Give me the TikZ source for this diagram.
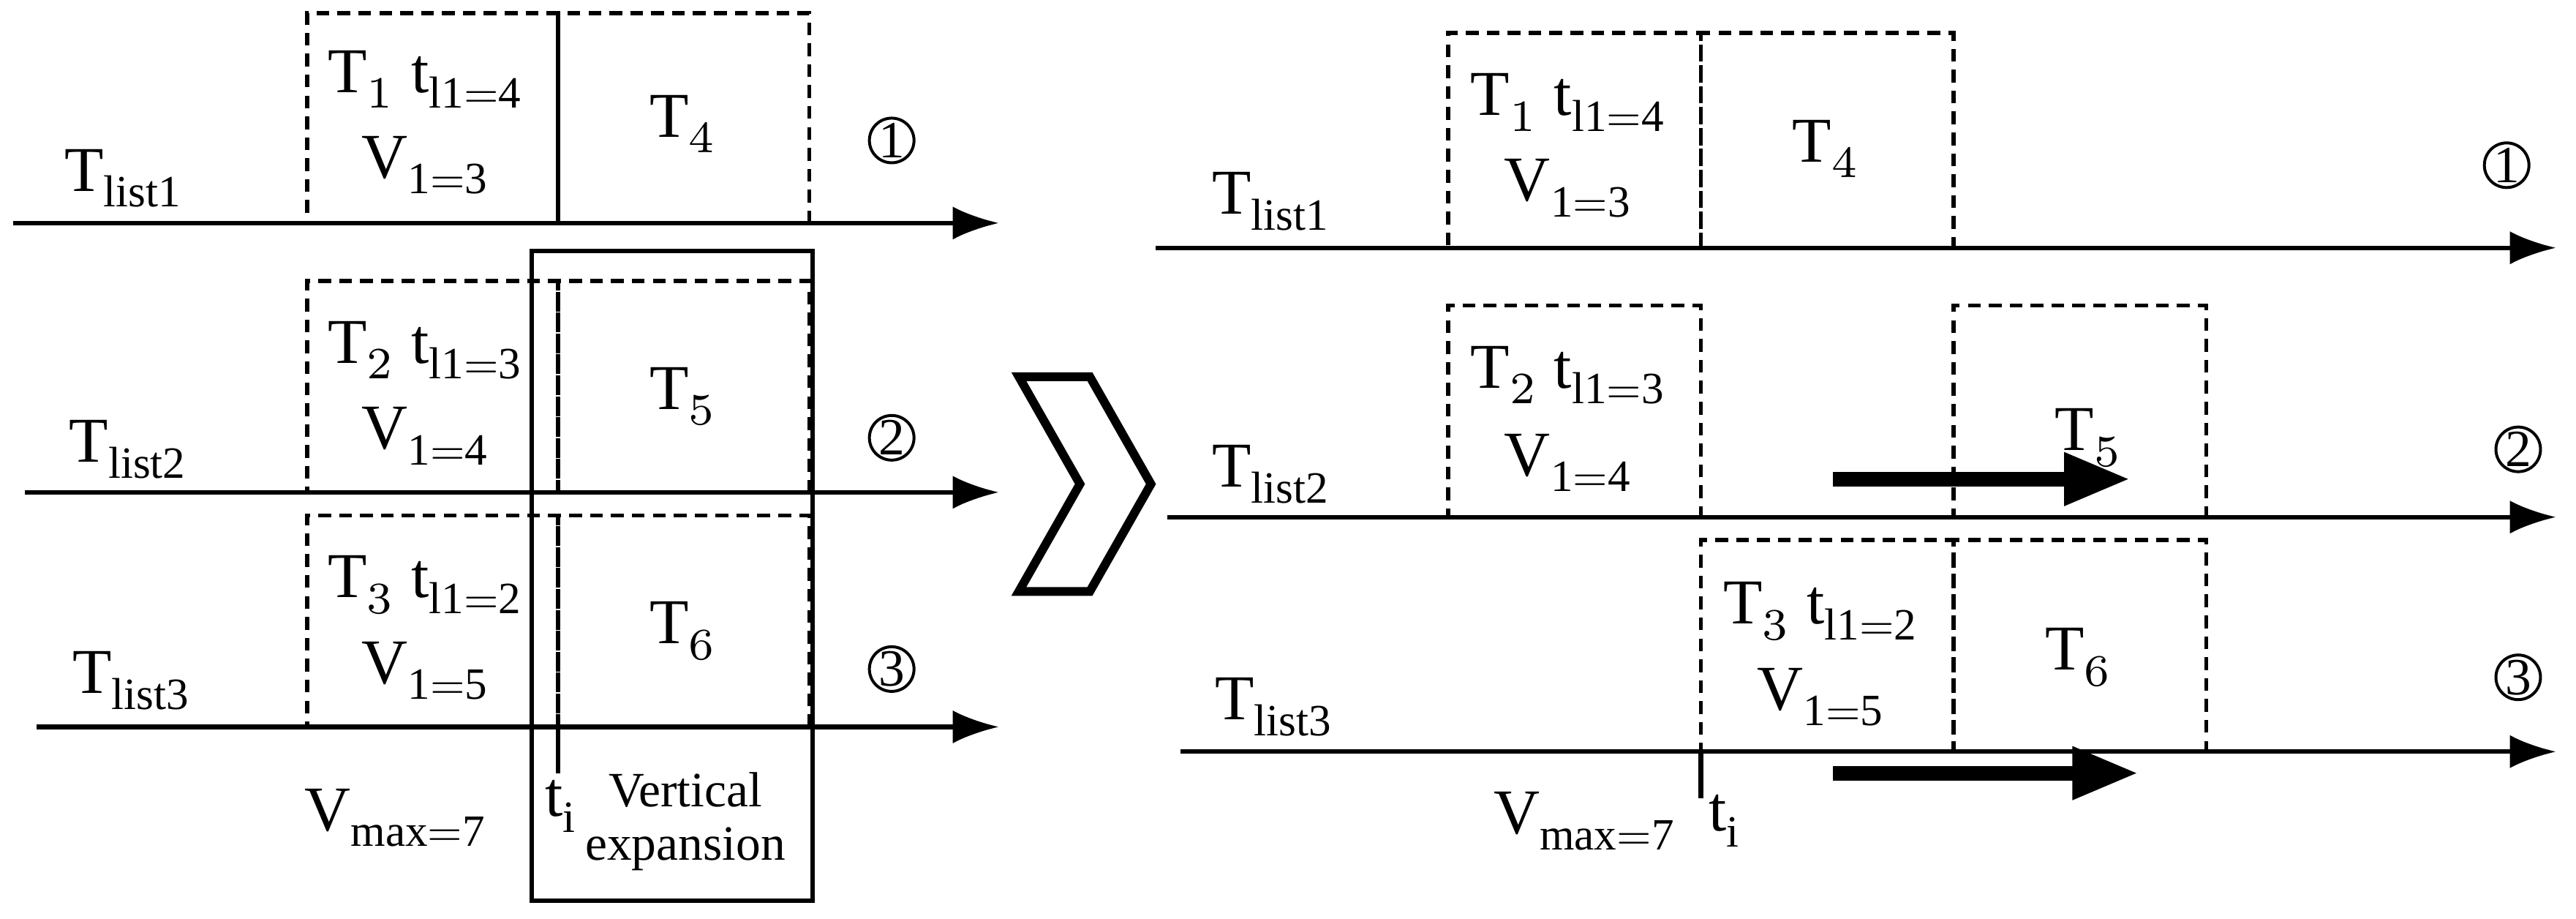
\documentclass[tikz,border=0pt]{standalone}
\usepackage{fontspec}
\setmainfont{Liberation Serif}
\usepackage{unicode-math}
\setmathfont{Latin Modern Math}
\setmathrm{Liberation Serif}
\begin{document}
\begin{tikzpicture}[x=0.01cm,y=-0.01cm,
  box/.style={draw,dash pattern=on 2.2pt off 1.4pt,line width=0.7pt},
  ax/.style={line width=0.8pt,-{Latex[length=0.28cm,width=0.2cm]}},
  thick arr/.style={line width=2.5pt,-{Triangle[length=0.4cm,width=0.3cm]}},
  lab/.style={font=\fontsize{11}{12}\selectfont,inner sep=0pt},
  cnum/.style={draw,circle,line width=0.5pt,minimum size=0.27cm,inner sep=0pt,font=\fontsize{9}{10}\selectfont},
  every node/.style={inner sep=0pt}]
\usetikzlibrary{arrows.meta}
\useasboundingbox (0,0) rectangle (1560,556);
% ---------- left ----------
\coordinate (a1s) at (8,135); \coordinate (a1e) at (605,135);
\coordinate (a2s) at (15,298); \coordinate (a2e) at (605,298);
\coordinate (a3s) at (22,440); \coordinate (a3e) at (605,440);
\draw[ax] (a1s) -- (a1e);
\draw[ax] (a2s) -- (a2e);
\draw[ax] (a3s) -- (a3e);
\node[box,minimum width=1.52cm,minimum height=1.27cm] (L1) at (262,71.5) {};
\node[box,minimum width=1.52cm,minimum height=1.27cm] (L4) at (414,71.5) {};
\node[box,minimum width=1.52cm,minimum height=1.28cm] (L2) at (262,234) {};
\node[box,minimum width=1.52cm,minimum height=1.28cm] (L5) at (414,234) {};
\node[box,minimum width=1.52cm,minimum height=1.28cm] (L3) at (262,376) {};
\node[box,minimum width=1.52cm,minimum height=1.28cm] (L6) at (414,376) {};
\node[lab] at (258,48) {T$_1$ t$_{\mathrm{l1=4}}$};
\node[lab] at (258,100) {V$_{\mathrm{1=3}}$};
\node[lab] at (258,212) {T$_2$ t$_{\mathrm{l1=3}}$};
\node[lab] at (258,264) {V$_{\mathrm{1=4}}$};
\node[lab] at (258,354) {T$_3$ t$_{\mathrm{l1=2}}$};
\node[lab] at (258,406) {V$_{\mathrm{1=5}}$};
\node[lab] at (414,75) {T$_4$};
\node[lab] at (414,240) {T$_5$};
\node[lab] at (414,382) {T$_6$};
\node[lab] at (75,108) {T$_{\mathrm{list1}}$};
\node[lab] at (78,272) {T$_{\mathrm{list2}}$};
\node[lab] at (80,412) {T$_{\mathrm{list3}}$};
\node[cnum] (c1) at (540,85) {1};
\node[cnum] (c2) at (540,265) {2};
\node[cnum] (c3) at (540,405) {3};
\node[draw,line width=0.8pt,minimum width=1.70cm,minimum height=3.93cm] (VE) at (407,348.5) {};
\coordinate (ti1) at (338,440); \coordinate (ti2) at (338,468);
\draw[line width=0.8pt] (ti1) -- (ti2);
\node[lab] at (340,488) {t$_\mathrm{i}$};
\node[lab] at (240,495) {V$_{\mathrm{max=7}}$};
\node[font=\fontsize{8.5}{9}\selectfont] at (415,478) {Vertical};
\node[font=\fontsize{8.5}{9}\selectfont] at (415,514) {expansion};
% ---------- chevron ----------
\draw[line width=1.5pt,line join=miter] (617,228) -- (660,228) -- (697,293) -- (660,358) -- (617,358) -- (654,293) -- cycle;
% ---------- right ----------
\coordinate (b1s) at (700,150); \coordinate (b1e) at (1548,150);
\coordinate (b2s) at (707,313); \coordinate (b2e) at (1548,313);
\coordinate (b3s) at (715,455); \coordinate (b3e) at (1548,455);
\draw[ax] (b1s) -- (b1e);
\draw[ax] (b2s) -- (b2e);
\draw[ax] (b3s) -- (b3e);
\node[box,minimum width=1.53cm,minimum height=1.30cm] (R1) at (953.5,85) {};
\node[box,minimum width=1.53cm,minimum height=1.30cm] (R4) at (1106.5,85) {};
\node[box,minimum width=1.53cm,minimum height=1.28cm] (R2) at (953.5,249) {};
\node[box,minimum width=1.53cm,minimum height=1.28cm] (R5) at (1259.5,249) {};
\node[box,minimum width=1.53cm,minimum height=1.28cm] (R3) at (1106.5,391) {};
\node[box,minimum width=1.53cm,minimum height=1.28cm] (R6) at (1259.5,391) {};
\node[lab] at (950,62) {T$_1$ t$_{\mathrm{l1=4}}$};
\node[lab] at (950,114) {V$_{\mathrm{1=3}}$};
\node[lab] at (950,227) {T$_2$ t$_{\mathrm{l1=3}}$};
\node[lab] at (950,280) {V$_{\mathrm{1=4}}$};
\node[lab] at (1103,370) {T$_3$ t$_{\mathrm{l1=2}}$};
\node[lab] at (1103,422) {V$_{\mathrm{1=5}}$};
\node[lab] at (1106,90) {T$_4$};
\node[lab] at (1265,265) {T$_5$};
\node[lab] at (1259,398) {T$_6$};
\node[lab] at (770,122) {T$_{\mathrm{list1}}$};
\node[lab] at (770,287) {T$_{\mathrm{list2}}$};
\node[lab] at (772,428) {T$_{\mathrm{list3}}$};
\node[cnum] (d1) at (1518,100) {1};
\node[cnum] (d2) at (1525,272) {2};
\node[cnum] (d3) at (1525,410) {3};
\coordinate (m1s) at (1110,290); \coordinate (m1e) at (1290,290);
\coordinate (m2s) at (1110,468); \coordinate (m2e) at (1295,468);
\draw[thick arr] (m1s) -- (m1e);
\draw[thick arr] (m2s) -- (m2e);
\coordinate (tj1) at (1030,455); \coordinate (tj2) at (1030,483);
\draw[line width=0.8pt] (tj1) -- (tj2);
\node[lab] at (960,497) {V$_{\mathrm{max=7}}$};
\node[lab] at (1045,497) {t$_\mathrm{i}$};
\end{tikzpicture}
\end{document}
